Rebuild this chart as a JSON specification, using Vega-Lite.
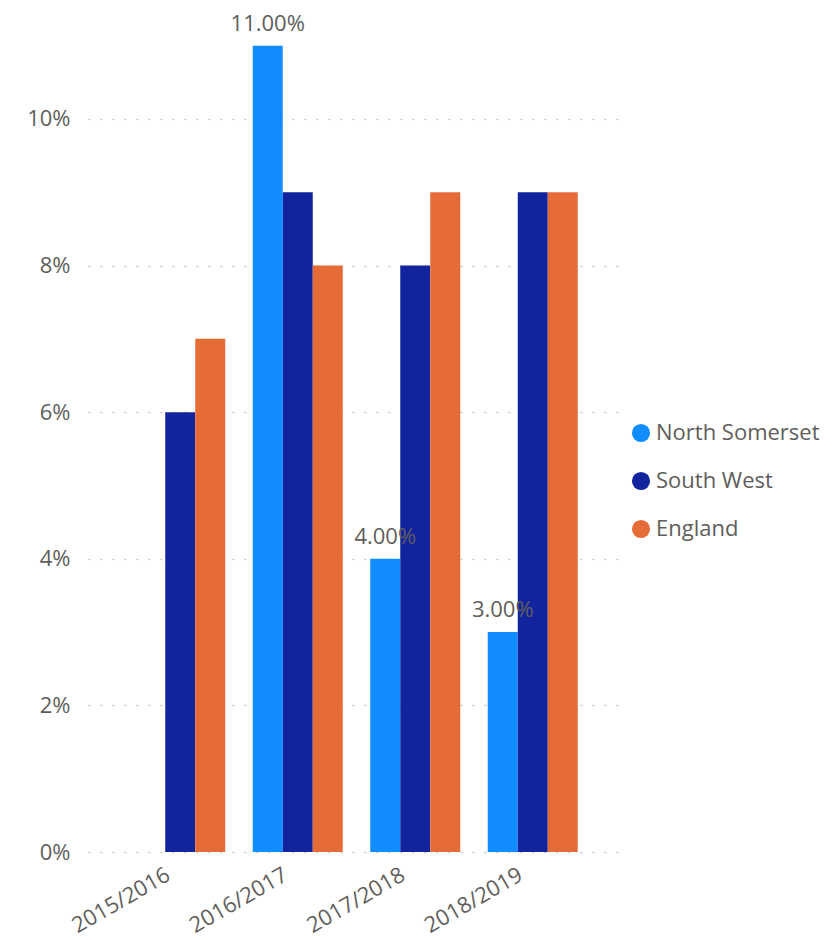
{
  "$schema": "https://vega.github.io/schema/vega-lite/v6.json",
  "autosize": "none",
  "width": 537,
  "height": 843,
  "padding": {"left": 88, "top": 9, "right": 215, "bottom": 88},
  "background": "white",
  "config": {
    "view": {"stroke": null},
    "font": "Open Sans",
    "axis": {"labelFont": "Open Sans", "labelColor": "#605E5C", "labelFontSize": 22},
    "legend": {"labelFont": "Open Sans", "labelColor": "#605E5C", "labelFontSize": 22}
  },
  "data": {
    "values": [
      {"year": "2015/2016", "area": "North Somerset", "value": null},
      {"year": "2015/2016", "area": "South West", "value": 0.06},
      {"year": "2015/2016", "area": "England", "value": 0.07},
      {"year": "2016/2017", "area": "North Somerset", "value": 0.11},
      {"year": "2016/2017", "area": "South West", "value": 0.09},
      {"year": "2016/2017", "area": "England", "value": 0.08},
      {"year": "2017/2018", "area": "North Somerset", "value": 0.04},
      {"year": "2017/2018", "area": "South West", "value": 0.08},
      {"year": "2017/2018", "area": "England", "value": 0.09},
      {"year": "2018/2019", "area": "North Somerset", "value": 0.03},
      {"year": "2018/2019", "area": "South West", "value": 0.09},
      {"year": "2018/2019", "area": "England", "value": 0.09}
    ]
  },
  "encoding": {
    "x": {
      "field": "year", "type": "nominal", "title": null,
      "scale": {"paddingInner": 0.234, "paddingOuter": 0.402},
      "axis": {
        "labelAngle": -30, "labelAlign": "right", "labelBaseline": "top", "labelFontSize": 22, "domain": false, "ticks": false, "labelPadding": 12, "labelOffset": -17, "grid": false, "labelLimit": 300
      }
    },
    "xOffset": {
      "field": "area", "type": "nominal",
      "scale": {"domain": ["North Somerset", "South West", "England"], "paddingInner": 0, "paddingOuter": 0}
    },
    "y": {
      "field": "value", "type": "quantitative", "title": null,
      "scale": {"domain": [0, 0.115], "nice": false},
      "axis": {"values": [0, 0.02, 0.04, 0.06, 0.08, 0.1], "format": ".0%", "domain": false, "ticks": false, "labelPadding": 18, "grid": true, "gridColor": "#C8C8C8", "gridDash": [2, 10], "gridWidth": 1.5}
    }
  },
  "layer": [
    {
      "mark": {"type": "bar"},
      "encoding": {
        "color": {
          "field": "area", "type": "nominal", "title": null,
          "scale": {"domain": ["North Somerset", "South West", "England"], "range": ["#118DFF", "#12239E", "#E66C37"]},
          "legend": {"orient": "none", "legendX": 542, "legendY": 413, "symbolType": "circle", "symbolSize": 330, "symbolOpacity": 1, "labelOffset": 4, "rowPadding": 26, "labelFontSize": 22, "labelLimit": 300}
        }
      }
    },
    {
      "transform": [{"filter": "datum.area === 'North Somerset' && datum.value != null"}],
      "mark": {"type": "text", "baseline": "alphabetic", "dy": -15, "fontSize": 22, "color": "#605E5C", "font": "Open Sans"},
      "encoding": {
        "text": {"field": "value", "type": "quantitative", "format": ".2%"}
      }
    }
  ]
}
